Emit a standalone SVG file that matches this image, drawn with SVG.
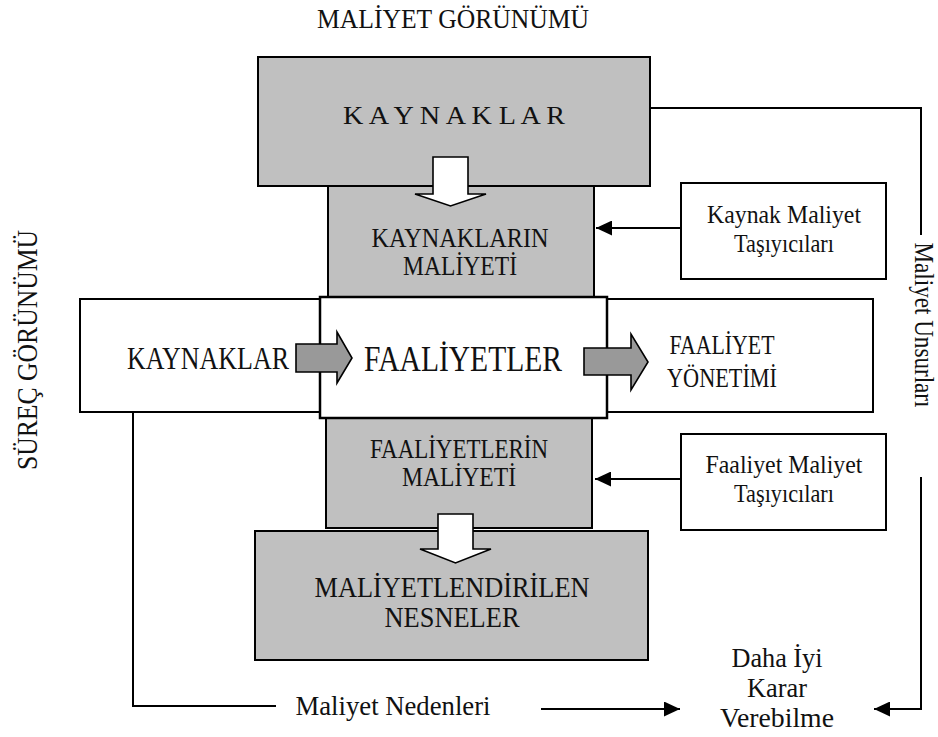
<svg xmlns="http://www.w3.org/2000/svg" width="938" height="737" viewBox="0 0 938 737">
<style>
text{font-family:"Liberation Serif","Times New Roman",serif;fill:#111;text-anchor:middle}
.box{stroke:#000;stroke-width:2}
.g{fill:#c0c0c0}
.w{fill:#fff}
.ln{fill:none;stroke:#000;stroke-width:2}
.wa{fill:#fff;stroke:#000;stroke-width:1.6}
.ga{fill:#999;stroke:#000;stroke-width:1.6}
</style>
<defs>
<marker id="ah" markerUnits="userSpaceOnUse" markerWidth="16" markerHeight="15" refX="16" refY="7.5" orient="auto">
<path d="M0,0 L16,7.5 L0,15 Z" fill="#000"/>
</marker>
</defs>
<rect width="938" height="737" fill="#fff"/>

<text id="title" x="453" y="28" font-size="27" textLength="272" lengthAdjust="spacingAndGlyphs">MALİYET GÖRÜNÜMÜ</text>
<text id="surec" x="37" y="350" font-size="29" textLength="240" lengthAdjust="spacingAndGlyphs" transform="rotate(-90 37 350)">SÜREÇ GÖRÜNÜMÜ</text>

<g id="connectors">
<polyline class="ln" points="650,108 921,108 921,235"/>
<polyline class="ln" points="921,477 921,709 874,709" marker-end="url(#ah)"/>
<line class="ln" x1="693" y1="228" x2="596" y2="228" marker-end="url(#ah)"/>
<line class="ln" x1="691" y1="479" x2="595" y2="479" marker-end="url(#ah)"/>
<polyline class="ln" points="133,412 133,706 276,706"/>
<line class="ln" x1="541" y1="709" x2="680" y2="709" marker-end="url(#ah)"/>
</g>
<text id="unsur" x="915" y="325" font-size="27" textLength="165" lengthAdjust="spacingAndGlyphs" transform="rotate(90 915 325)">Maliyet Unsurları</text>
<text id="nedenleri" x="393" y="715" font-size="28" textLength="195" lengthAdjust="spacingAndGlyphs">Maliyet Nedenleri</text>

<g id="kaynaklarin">
<rect class="box g" x="328" y="186" width="266" height="111"/>
<text x="460" y="247" font-size="26.5" textLength="177" lengthAdjust="spacingAndGlyphs">KAYNAKLARIN</text>
<text x="460" y="275" font-size="26.5" textLength="114" lengthAdjust="spacingAndGlyphs">MALİYETİ</text>
</g>
<g id="kaynaklar-top">
<rect class="box g" x="258" y="57" width="392" height="129"/>
<text x="454" y="124" font-size="26" textLength="222" lengthAdjust="spacingAndGlyphs">K A Y N A K L A R</text>
</g>
<polygon id="arrow1" class="wa" points="433,157 468,157 468,194 486,194 450.5,206 415,194 433,194"/>

<g id="kaynak-tasiyici">
<rect class="box w" x="681" y="183" width="205" height="96"/>
<text x="784" y="223" font-size="25" textLength="154" lengthAdjust="spacingAndGlyphs">Kaynak Maliyet</text>
<text x="784" y="252" font-size="25" textLength="100" lengthAdjust="spacingAndGlyphs">Taşıyıcıları</text>
</g>

<g id="faaliyetlerin">
<rect class="box g" x="326" y="418" width="266" height="110"/>
<text x="459" y="458" font-size="26.5" textLength="178" lengthAdjust="spacingAndGlyphs">FAALİYETLERİN</text>
<text x="459" y="486" font-size="26.5" textLength="114" lengthAdjust="spacingAndGlyphs">MALİYETİ</text>
</g>

<g id="kaynaklar-mid">
<rect class="box w" x="80" y="299" width="240" height="113"/>
<text x="208" y="369" font-size="31" textLength="162" lengthAdjust="spacingAndGlyphs">KAYNAKLAR</text>
</g>
<g id="faaliyet-yonetimi">
<rect class="box w" x="607" y="299" width="266" height="113"/>
<text x="722" y="354" font-size="28" textLength="105" lengthAdjust="spacingAndGlyphs">FAALİYET</text>
<text x="722" y="387" font-size="28" textLength="110" lengthAdjust="spacingAndGlyphs">YÖNETİMİ</text>
</g>
<g id="faaliyetler">
<rect class="w" x="320" y="297" width="287" height="121" stroke="#000" stroke-width="2.5"/>
<text x="463" y="371" font-size="35" textLength="198" lengthAdjust="spacingAndGlyphs">FAALİYETLER</text>
</g>
<polygon id="arrow2" class="ga" points="296,344 337,344 337,332 352,358 337,383 337,372 296,372"/>
<polygon id="arrow3" class="ga" points="584,348 631,348 631,334 648,362 631,390 631,375 584,375"/>

<g id="faaliyet-tasiyici">
<rect class="box w" x="681" y="434" width="205" height="96"/>
<text x="784" y="473" font-size="25" textLength="157" lengthAdjust="spacingAndGlyphs">Faaliyet Maliyet</text>
<text x="784" y="502" font-size="25" textLength="100" lengthAdjust="spacingAndGlyphs">Taşıyıcıları</text>
</g>

<g id="nesneler">
<rect class="box g" x="255" y="531" width="393" height="129"/>
<text x="452" y="597" font-size="29" textLength="275" lengthAdjust="spacingAndGlyphs">MALİYETLENDİRİLEN</text>
<text x="452" y="627" font-size="29" textLength="135" lengthAdjust="spacingAndGlyphs">NESNELER</text>
</g>
<polygon id="arrow4" class="wa" points="438,514 473,514 473,549 491,549 455.5,563 420,549 438,549"/>

<g id="karar">
<text x="777" y="667" font-size="28" textLength="91" lengthAdjust="spacingAndGlyphs">Daha İyi</text>
<text x="777" y="697" font-size="28" textLength="60" lengthAdjust="spacingAndGlyphs">Karar</text>
<text x="777" y="727" font-size="28" textLength="114" lengthAdjust="spacingAndGlyphs">Verebilme</text>
</g>
</svg>
